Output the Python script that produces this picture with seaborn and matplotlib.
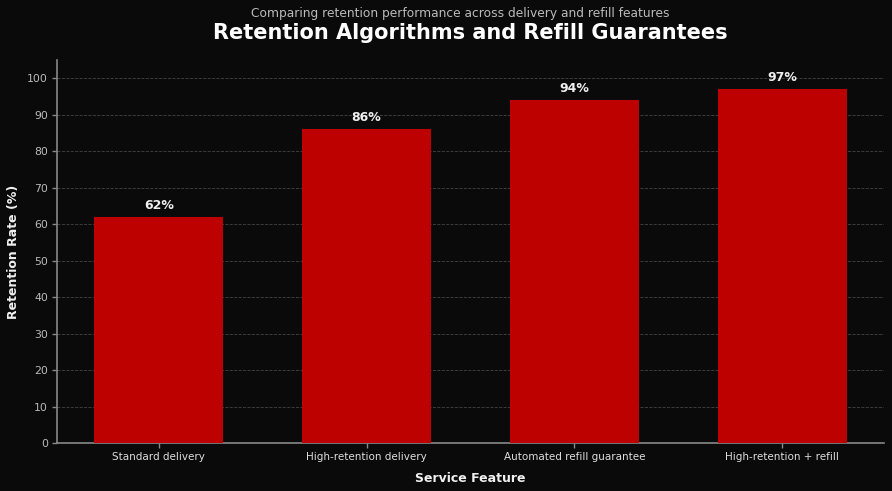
import matplotlib
matplotlib.use("Agg")
import matplotlib.pyplot as plt
import seaborn as sns
import pandas as pd

categories = ["Standard delivery", "High-retention delivery", "Automated refill guarantee", "High-retention + refill"]
retention = [62, 86, 94, 97]
yticks = [0, 10, 20, 30, 40, 50, 60, 70, 80, 90, 100]

bg = "#0a0a0a"
sns.set_theme(style="dark")
plt.rcParams["font.family"] = ["DejaVu Sans"]

fig, ax = plt.subplots(figsize=(8.92, 4.91), dpi=100)
fig.patch.set_facecolor(bg)
ax.set_facecolor(bg)

df = pd.DataFrame({"Feature": categories, "Retention": retention})
sns.barplot(data=df, x="Feature", y="Retention", color="#bd0000", saturation=1,
            width=0.62, ax=ax, zorder=3, linewidth=0, edgecolor="none")

for i, v in enumerate(retention):
    ax.text(i, v + 1.4, f"{v}%", ha="center", va="bottom", color="#f0f0f0",
            fontsize=9, fontweight="bold", zorder=4)

ax.set_ylim(0, 105)
ax.set_xlim(-0.49, 3.49)
ax.set_yticks(yticks)
ax.grid(axis="y", color="#444444", linestyle="--", linewidth=0.6, zorder=0)
ax.grid(axis="x", visible=False)
for s in ["top", "right"]:
    ax.spines[s].set_visible(False)
for s in ["left", "bottom"]:
    ax.spines[s].set_visible(True)
    ax.spines[s].set_color("#888888")
    ax.spines[s].set_linewidth(1.2)
ax.tick_params(axis="both", colors="#888888", labelcolor="#bbbbbb", labelsize=7.8,
               length=3.5, width=1, pad=3, left=True, bottom=True)
ax.tick_params(axis="x", labelcolor="#dddddd", labelsize=7.5)

ax.set_xlabel("Service Feature", color="#f0f0f0", fontsize=9, fontweight="bold", labelpad=7)
ax.set_ylabel("Retention Rate (%)", color="#f0f0f0", fontsize=9, fontweight="bold", labelpad=5)
ax.set_title("Retention Algorithms and Refill Guarantees", color="white", fontsize=15,
             fontweight="bold", pad=15)
fig.text(460 / 892, 1 - 13 / 491, "Comparing retention performance across delivery and refill features",
         ha="center", va="center", color="#bbbbbb", fontsize=8.8)

fig.subplots_adjust(left=57 / 892, right=884 / 892, top=1 - 60 / 491, bottom=1 - 443 / 491)
fig.savefig("out.png", dpi=100, facecolor=bg)
